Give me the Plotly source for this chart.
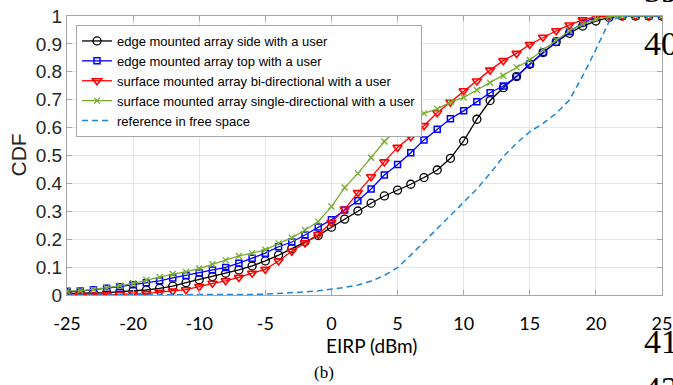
import plotly.graph_objects as go

# EIRP sample grid (dBm) – 46 samples, one per marker
eirp = list(range(-25, 21))

# axis tick labels as printed in the figure
tick_pos = [-25, -20, -15, -10, -5, 0, 5, 10, 15, 20]
tick_text = ["-25", "-20", "-10", "-5", "0", "5", "10", "15", "20", "25"]
y_ticks = [0, 0.1, 0.2, 0.3, 0.4, 0.5, 0.6, 0.7, 0.8, 0.9, 1]
y_tick_text = ["0", "0.1", "0.2", "0.3", "0.4", "0.5", "0.6", "0.7", "0.8", "0.9", "1"]

names = [
    "edge mounted array side with a user",
    "edge mounted array top with a user",
    "surface mounted array bi-directional with a user",
    "surface mounted array single-directional with a user",
    "reference in free space",
]

edge_side = [0.006, 0.006, 0.007, 0.008, 0.012, 0.015, 0.018, 0.024, 0.032, 0.044,
             0.055, 0.066, 0.078, 0.090, 0.104, 0.122, 0.143, 0.167, 0.191, 0.213,
             0.243, 0.272, 0.301, 0.329, 0.355, 0.376, 0.397, 0.421, 0.448, 0.490,
             0.552, 0.630, 0.697, 0.743, 0.783, 0.827, 0.869, 0.908, 0.938, 0.964,
             0.982, 0.995, 1.0, 1.0, 1.0, 1.0]

edge_top = [0.013, 0.014, 0.019, 0.024, 0.030, 0.037, 0.044, 0.051, 0.061, 0.070,
            0.079, 0.090, 0.099, 0.114, 0.132, 0.150, 0.173, 0.190, 0.215, 0.244,
            0.270, 0.305, 0.338, 0.380, 0.430, 0.468, 0.510, 0.556, 0.594, 0.632,
            0.660, 0.693, 0.725, 0.749, 0.783, 0.827, 0.869, 0.906, 0.944, 0.974,
            0.998, 1.0, 1.0, 1.0, 1.0, 1.0]

surf_bi = [0.0, 0.0, 0.0, 0.001, 0.002, 0.004, 0.005, 0.010, 0.014, 0.019,
           0.030, 0.042, 0.051, 0.063, 0.078, 0.092, 0.122, 0.157, 0.187, 0.217,
           0.260, 0.307, 0.367, 0.424, 0.477, 0.529, 0.567, 0.607, 0.653, 0.691,
           0.732, 0.767, 0.806, 0.840, 0.866, 0.898, 0.924, 0.947, 0.968, 0.986,
           0.998, 1.0, 1.0, 1.0, 1.0, 1.0]

surf_single = [0.015, 0.016, 0.020, 0.026, 0.033, 0.042, 0.054, 0.064, 0.075, 0.083,
               0.095, 0.110, 0.125, 0.140, 0.150, 0.162, 0.185, 0.205, 0.233, 0.263,
               0.317, 0.385, 0.436, 0.492, 0.550, 0.595, 0.624, 0.651, 0.667, 0.691,
               0.708, 0.735, 0.761, 0.786, 0.816, 0.842, 0.878, 0.914, 0.947, 0.971,
               0.988, 0.998, 1.0, 1.0, 1.0, 1.0]

reference = [0.0, 0.0, 0.0, 0.0, 0.0, 0.0, 0.0, 0.0, 0.0, 0.0,
             0.0, 0.0, 0.0, 0.001, 0.002, 0.003, 0.005, 0.008, 0.011, 0.015,
             0.020, 0.027, 0.036, 0.050, 0.070, 0.098, 0.143, 0.191, 0.239, 0.287,
             0.334, 0.380, 0.436, 0.496, 0.544, 0.585, 0.615, 0.651, 0.699, 0.785,
             0.880, 0.980, 1.0, 1.0, 1.0, 1.0]

fig = go.Figure()

fig.add_trace(go.Scatter(x=eirp, y=edge_side, name=names[0], mode="lines+markers",
                         line=dict(color="#000000", width=1.3),
                         marker=dict(symbol="circle-open", size=8, color="#000000",
                                     line=dict(width=1.3))))
fig.add_trace(go.Scatter(x=eirp, y=edge_top, name=names[1], mode="lines+markers",
                         line=dict(color="#0000FF", width=1.3),
                         marker=dict(symbol="square-open", size=6, color="#0000FF",
                                     line=dict(width=1.5))))
fig.add_trace(go.Scatter(x=eirp, y=surf_bi, name=names[2], mode="lines+markers",
                         line=dict(color="#FF0000", width=1.3),
                         marker=dict(symbol="triangle-down-open", size=8, color="#FF0000",
                                     line=dict(width=1.6))))
fig.add_trace(go.Scatter(x=eirp, y=surf_single, name=names[3], mode="lines+markers",
                         line=dict(color="#77AC30", width=1.3),
                         marker=dict(symbol="x-thin-open", size=6, color="#77AC30",
                                     line=dict(width=1.3))))
fig.add_trace(go.Scatter(x=eirp, y=reference, name=names[4], mode="lines",
                         line=dict(color="#1F86D6", width=1.5, dash="6px,4px")))

axis_common = dict(showgrid=True, gridcolor="#E6E6E6", gridwidth=1,
                   showline=True, linecolor="#A6A6A6", linewidth=1, mirror="ticks",
                   ticks="inside", ticklen=5, tickcolor="#A6A6A6", zeroline=False,
                   automargin=False)

fig.update_xaxes(range=[-25, 20], tickmode="array", tickvals=tick_pos, ticktext=tick_text,
                 tickfont=dict(family="Lato, Carlito, sans-serif", size=18, color="#000000"),
                 ticklabelstandoff=12,
                 **axis_common)
fig.update_yaxes(range=[0, 1], tickmode="array", tickvals=y_ticks, ticktext=y_tick_text,
                 tickfont=dict(family="Liberation Sans, Arial, sans-serif", size=19,
                               color="#262626"),
                 **axis_common)

L, R, T, B = 67, 11, 16, 90
W, H = 673, 385
pw, ph = W - L - R, H - T - B


def px(xp):
    return (xp - L) / pw


def py(yp):
    return (H - B - yp) / ph


annotations = [
    dict(text="CDF", x=px(18), y=0.5, xref="paper", yref="paper", textangle=-90,
         showarrow=False, font=dict(family="Liberation Sans, Arial", size=21, color="#262626"),
         xanchor="center", yanchor="middle"),
    dict(text="EIRP (dBm)", x=px(371), y=py(345), xref="paper", yref="paper",
         showarrow=False, font=dict(family="Lato, Carlito, sans-serif", size=19, color="#000000"),
         xanchor="center", yanchor="middle"),
    dict(text="(b)", x=px(324), y=py(372), xref="paper", yref="paper",
         showarrow=False, font=dict(family="Liberation Serif, Times New Roman", size=17,
                                    color="#000000"),
         xanchor="center", yanchor="middle"),
]
for label, ypix in [("39", -9), ("40", 43), ("41", 341), ("42", 388)]:
    annotations.append(dict(text=label, x=px(642), y=py(ypix), xref="paper", yref="paper",
                            showarrow=False,
                            font=dict(family="Liberation Serif, Times New Roman", size=34,
                                      color="#000000"),
                            xanchor="left", yanchor="middle"))

fig.update_layout(
    width=W, height=H,
    margin=dict(l=L, r=R, t=T, b=B, pad=0, autoexpand=False),
    paper_bgcolor="white", plot_bgcolor="white",
    showlegend=True,
    legend=dict(x=px(76), y=py(25), xanchor="left", yanchor="top",
                bgcolor="white", bordercolor="#A6A6A6", borderwidth=1,
                font=dict(family="Liberation Sans, Arial, sans-serif", size=13, color="#000000"),
                itemwidth=30, tracegroupgap=0),
    annotations=annotations,
)

fig.write_html("out.html", config={"displayModeBar": False},
               post_script="document.body.style.margin='0';document.body.style.overflow='hidden';")
